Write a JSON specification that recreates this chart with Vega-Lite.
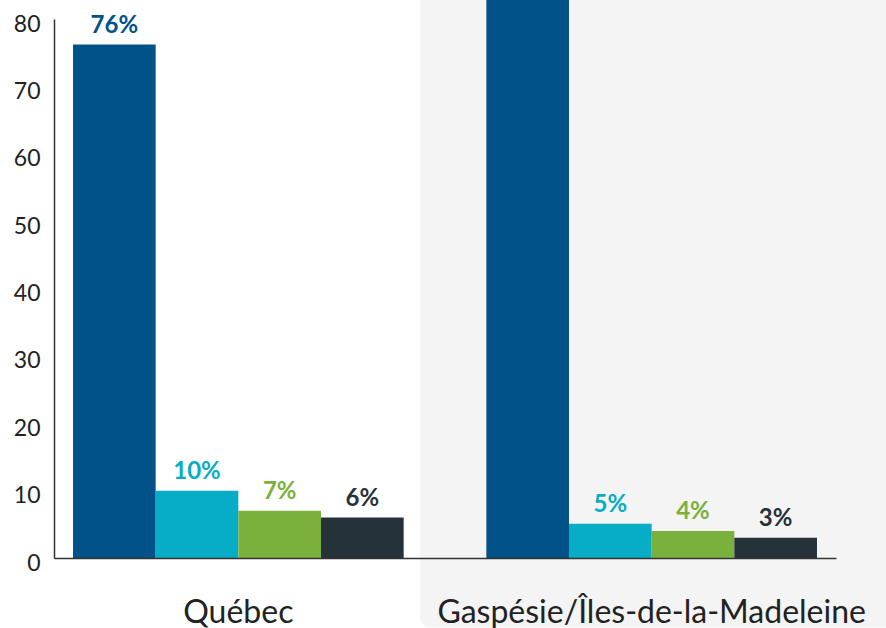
{
  "$schema": "https://vega.github.io/schema/vega-lite/v6.json",
  "width": 782,
  "height": 539,
  "autosize": "none",
  "padding": {"left": 54, "top": 19, "right": 50, "bottom": 70},
  "background": "white",
  "config": {"view": {"stroke": null}, "font": "Lato"},
  "datasets": {
    "bars": [
      {"region": "Québec", "group": "Catégorie 1", "value": 76.2, "label": "76%"},
      {"region": "Québec", "group": "Catégorie 2", "value": 10.0, "label": "10%"},
      {"region": "Québec", "group": "Catégorie 3", "value": 7.0, "label": "7%"},
      {"region": "Québec", "group": "Catégorie 4", "value": 6.0, "label": "6%"},
      {"region": "Gaspésie/Îles-de-la-Madeleine", "group": "Catégorie 1", "value": 87.0, "label": "87%"},
      {"region": "Gaspésie/Îles-de-la-Madeleine", "group": "Catégorie 2", "value": 5.1, "label": "5%"},
      {"region": "Gaspésie/Îles-de-la-Madeleine", "group": "Catégorie 3", "value": 4.0, "label": "4%"},
      {"region": "Gaspésie/Îles-de-la-Madeleine", "group": "Catégorie 4", "value": 3.0, "label": "3%"}
    ],
    "highlight": [
      {"region": "Gaspésie/Îles-de-la-Madeleine", "top": 200, "bottom": -10.3}
    ]
  },
  "layer": [
    {
      "data": {"name": "highlight"},
      "mark": {"type": "rect", "color": "#f4f4f4", "cornerRadius": 10},
      "encoding": {
        "x": {
          "field": "region", "type": "nominal", "bandPosition": -0.2, "sort": null,
          "scale": {"domain": ["Québec", "Gaspésie/Îles-de-la-Madeleine"], "paddingInner": 0.2, "paddingOuter": 0.046},
          "axis": {"title": null, "labelAngle": 0, "ticks": false, "labelFontSize": 32, "labelColor": "#222222", "labelPadding": 39, "labelLimit": 0, "bandPosition": 0.5, "domainColor": "#333333", "domainWidth": 1.5, "zindex": 1}
        },
        "x2": {"field": "region", "bandPosition": 1.25},
        "y": {"field": "top", "type": "quantitative"},
        "y2": {"field": "bottom"}
      }
    },
    {
      "data": {"name": "bars"},
      "mark": {"type": "bar"},
      "encoding": {
        "x": {
          "field": "region", "type": "nominal", "sort": null,
          "scale": {"domain": ["Québec", "Gaspésie/Îles-de-la-Madeleine"], "paddingInner": 0.2, "paddingOuter": 0.046},
          "axis": {"title": null, "labelAngle": 0, "ticks": false, "labelFontSize": 32, "labelColor": "#222222", "labelPadding": 39, "labelLimit": 0, "bandPosition": 0.5, "domainColor": "#333333", "domainWidth": 1.5, "zindex": 1}
        },
        "xOffset": {"field": "group", "type": "nominal", "sort": null, "scale": {"paddingInner": 0, "paddingOuter": 0}},
        "y": {
          "field": "value", "type": "quantitative",
          "scale": {"domain": [0, 80], "nice": false},
          "axis": {"title": null, "values": [0, 10, 20, 30, 40, 50, 60, 70, 80], "grid": false, "ticks": false, "labelFontSize": 23, "labelColor": "#222222", "labelPadding": 14, "labelOffset": 5, "domainColor": "#333333", "domainWidth": 1.5, "zindex": 1}
        },
        "color": {
          "field": "group", "type": "nominal", "sort": null,
          "scale": {"range": ["#005288", "#07acc7", "#7ab13d", "#263239"]},
          "legend": null
        }
      }
    },
    {
      "data": {"name": "bars"},
      "transform": [{"filter": "datum.value <= 80"}],
      "mark": {"type": "text", "baseline": "bottom", "dy": -7, "fontSize": 24, "fontWeight": "bold"},
      "encoding": {
        "x": {"field": "region", "type": "nominal", "sort": null},
        "xOffset": {"field": "group", "type": "nominal", "sort": null},
        "y": {"field": "value", "type": "quantitative"},
        "text": {"field": "label"},
        "color": {"field": "group", "type": "nominal", "sort": null, "legend": null}
      }
    }
  ]
}
